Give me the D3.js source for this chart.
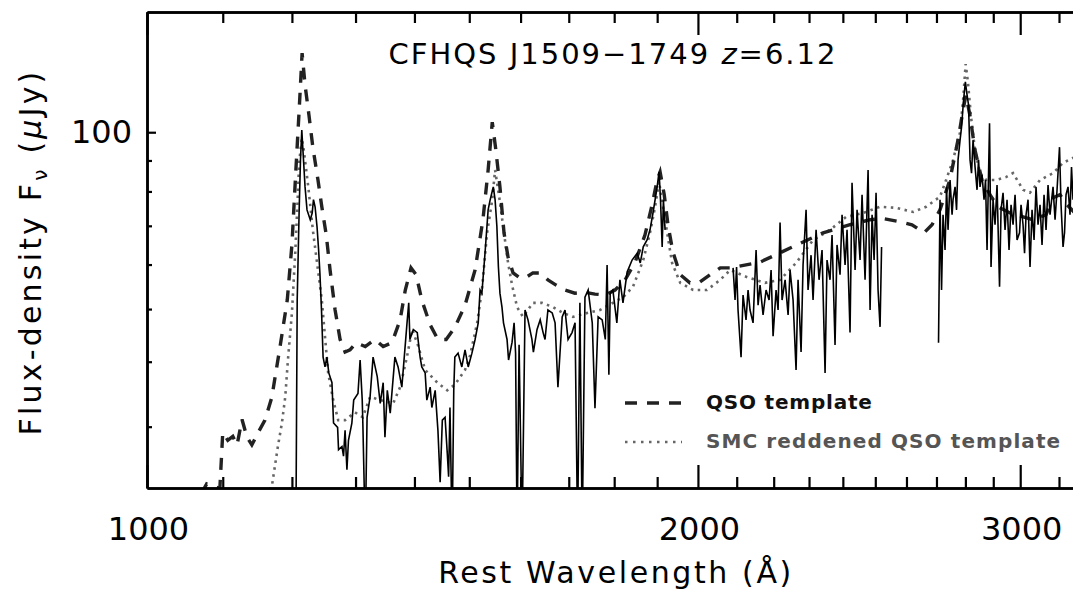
<!DOCTYPE html>
<html>
<head>
<meta charset="utf-8">
<script src="https://cdn.jsdelivr.net/npm/d3@7"></script>
<style>
  body { margin: 0; background: #fff; }
  svg { display: block; }
  text { font-family: "DejaVu Sans", sans-serif; }
</style>
</head>
<body>
<svg id="chart" width="1073" height="589"></svg>
<script>
// tick values
const waveMajor = [1000, 2000, 3000];
const waveMinor = [1100, 1200, 1300, 1400, 1500, 1600, 1700, 1800, 1900,
                   2100, 2200, 2300, 2400, 2500, 2600, 2700, 2800, 2900, 3150];
const fluxMajor = [100];
const fluxMinor = [30, 40, 50, 60, 70, 80, 90];

// QSO template (dashed) [wavelength A, flux uJy]
const qsoTemplate = [
  [1056,20],[1078,23],[1096,22.5],[1100,29.2],[1107,28.2],[1114,28.7],[1120,27.6],[1127,31.0],
  [1134,28.6],[1141,27.6],[1150,29.2],[1160,30.9],[1170,34.2],[1182,42.5],[1193,51.9],[1200,64.9],
  [1206,86.8],[1211,108.5],[1215.5,133],[1220,118.8],[1226,106.5],[1232,94.6],[1240,83.6],[1246,75.4],
  [1253,67.5],[1259,58.7],[1267,49.8],[1275,44.0],[1283,41.7],[1291,42.1],[1301,43.4],[1316,42.7],
  [1332,44.0],[1346,42.7],[1361,43.4],[1375,47.8],[1384,54.1],[1394,59.2],[1403,57.6],[1413,51.9],
  [1428,46.8],[1442,44.0],[1457,44.0],[1473,46.3],[1492,50.8],[1511,58.7],[1526,71.7],[1536,86.8],
  [1544,103.8],[1551,93.6],[1559,81.4],[1567,68.1],[1575,61.8],[1585,58.0],[1599,56.8],[1613,57.1],
  [1625,58.0],[1640,58.0],[1656,56.4],[1673,55.2],[1692,54.1],[1713,53.4],[1735,53.6],[1757,53.2],
  [1780,53.0],[1802,54.1],[1825,56.4],[1848,60.6],[1871,67.5],[1888,76.0],[1900,83.6],[1907,86.2],
  [1917,79.0],[1926,70.3],[1938,63.1],[1956,57.6],[1980,55.7],[2005,55.9],[2031,57.6],[2057,59.2],
  [2083,59.2],[2163,60.6],[2246,64.1],[2341,68.1],[2422,70.3],[2484,71.7],[2525,72.0],[2579,71.1],
  [2618,70.3],[2658,68.1],[2685,70.3],[2712,74.5],[2746,83.6],[2774,97.1],[2792,108.5],[2802,114.5],
  [2816,106.5],[2834,93.6],[2859,83.6],[2888,79.0],[2917,75.4],[2962,73.6],[3011,72.5],[3049,71.7],
  [3099,73.1],[3127,78.1],[3154,79.0],[3182,76.0],[3214,73.6]
];

// SMC reddened QSO template (dotted)
const smcTemplate = [
  [1160,21.8],[1170,22.7],[1179,27.4],[1185,30.5],[1190,34.3],[1194,40.3],[1200,49.2],[1205,62.8],
  [1208,74.5],[1211,89.2],[1215,97.8],[1218,93.6],[1225,81.4],[1232,68.9],[1240,58.7],[1246,51.9],
  [1251,44.5],[1256,38.1],[1264,33.8],[1272,30.9],[1283,30.9],[1299,32.0],[1312,31.3],[1324,34.3],
  [1341,33.8],[1363,33.3],[1375,35.8],[1387,40.9],[1396,45.9],[1406,43.0],[1419,38.6],[1441,36.5],
  [1459,35.3],[1473,36.2],[1492,38.6],[1501,40.9],[1515,47.2],[1524,54.1],[1534,68.1],[1544,77.5],
  [1549.5,86.8],[1557,79.0],[1567,68.1],[1575,60.4],[1583,55.2],[1593,50.4],[1605,48.4],[1625,51.3],
  [1644,51.3],[1667,50.4],[1688,49.2],[1709,48.4],[1740,49.2],[1768,49.8],[1797,51.3],[1820,52.5],
  [1843,54.8],[1867,61.1],[1883,68.1],[1895,75.4],[1904.5,83.0],[1914,75.4],[1924,68.1],[1936,60.4],
  [1956,55.7],[1988,54.1],[2023,54.1],[2057,56.4],[2083,58.7],[2125,57.1],[2176,55.7],[2218,56.4],
  [2263,60.4],[2312,66.2],[2362,68.9],[2410,72.5],[2462,73.6],[2515,75.4],[2566,75.1],[2622,73.9],
  [2665,75.4],[2712,78.4],[2733,83.6],[2757,90.2],[2781,99.8],[2792,112.5],[2801,128],[2809,120],
  [2820,105.8],[2834,93.6],[2852,85.8],[2874,83.6],[2910,83.6],[2947,84.5],[2973,85.8],[3011,80.5],
  [3037,79.6],[3076,83.6],[3127,85.8],[3166,89.2],[3214,91.2]
];

// observed spectrum (solid); null flux marks a gap between segments
const spectrum = [
  [1206,18],[1208,51.9],[1211,74.5],[1213,90.2],[1215,100.8],[1217,92.6],[1220,81.4],[1223,74.5],
  [1228,71.7],[1231,73.6],[1233,77.5],[1235.5,75.4],[1238.5,69.8],[1241,63.6],[1243,58.0],[1245.5,49.8],
  [1248,40.8],[1251,39.1],[1254,40.8],[1257,38.1],[1262,36.5],[1264.5,30.5],[1271,29.9],[1272.5,27.0],
  [1278,27.4],[1280.5,26.2],[1283,29.5],[1286,24.6],[1288.5,28.2],[1294,30.5],[1297,33.8],[1304,34.8],
  [1307.5,40.3],[1311,33.8],[1312,30.5],[1316,18],[1319,31.3],[1324,34.3],[1329,40.8],[1336,37.5],
  [1341,33.3],[1346,36.5],[1349,28.6],[1353,35.3],[1358,31.9],[1366,40.8],[1371.5,39.1],[1378,35.8],
  [1387,47.2],[1390,51.3],[1392,44.0],[1398,45.9],[1405,45.3],[1410,40.8],[1413,39.1],[1419,38.1],
  [1422,33.8],[1428,35.8],[1431,32.7],[1437,35.3],[1442,29.5],[1446,23.2],[1450,30.9],[1455,31.3],
  [1459,26.6],[1461.5,23.8],[1464,32.7],[1468,18],[1471,35.3],[1473,40.8],[1479,41.5],[1486,39.1],
  [1492,42.1],[1498,39.1],[1505,41.5],[1511,44.0],[1517,47.2],[1520.5,54.1],[1524,53.4],[1530,62.8],
  [1536,74.5],[1540,77.5],[1546,81.4],[1549.5,77.5],[1553,69.8],[1556,59.4],[1559,53.4],[1563,50.4],
  [1566,47.2],[1573,44.0],[1576,40.3],[1583,43.5],[1587,47.2],[1590,41.5],[1593,18],[1597,43.0],
  [1603,18],[1609,49.8],[1615,47.8],[1623,44.0],[1626,41.7],[1633.5,45.9],[1640,47.8],[1646,45.3],
  [1650,44.0],[1656,49.8],[1665,49.2],[1671,47.2],[1677,35.8],[1686,48.4],[1692,49.8],[1698.5,44.0],
  [1707,45.3],[1713.5,47.2],[1719,18],[1724,51.3],[1729,18],[1735,52.5],[1742,54.1],[1751,47.2],
  [1757,32.6],[1764,48.4],[1773,47.8],[1780,44.0],[1784,59.9],[1788,37.8],[1791,53.4],[1797,54.1],
  [1806,47.2],[1813,56.4],[1820,51.3],[1829.5,58.2],[1841,61.1],[1853,62.8],[1860,60.4],[1867,64.4],
  [1876,66.2],[1883,68.9],[1890,73.6],[1900,81.4],[1904.5,86.2],[1908,77.5],[1912,64.4],[1915,77.5],
  [1919,68.9],[2000,null],
  [2090.4,59.2],[2095.6,51.9],[2099.6,59.4],[2103.5,49.8],[2111.5,40.8],[2116.8,53.0],[2124.8,47.8],
  [2130.2,54.1],[2135.5,49.8],[2143.6,47.2],[2151.8,63.6],[2157.2,50.8],[2162.6,55.2],[2170.8,48.8],
  [2179.0,54.1],[2187.3,51.9],[2192.8,58.7],[2198.3,44.6],[2206.6,54.1],[2212.2,49.8],[2217.7,70.9],
  [2223.3,51.9],[2231.8,56.4],[2240.2,48.8],[2245.8,58.7],[2254.3,51.9],[2262.8,38.6],[2268.5,56.4],
  [2277.1,41.7],[2282.8,59.9],[2291.5,74.5],[2297.2,54.1],[2305.9,62.3],[2311.7,51.9],[2320.5,68.9],
  [2329.2,56.4],[2338.0,63.6],[2346.9,38.1],[2352.7,61.1],[2361.6,56.4],[2367.6,67.5],[2376.5,43.0],
  [2382.5,64.9],[2391.5,57.6],[2397.6,73.1],[2406.7,59.9],[2412.7,68.9],[2421.8,45.3],[2427.9,82.7],
  [2437.2,58.7],[2443.3,74.5],[2452.5,61.1],[2458.7,79.0],[2468.0,56.4],[2477.4,86.8],[2483.6,49.8],
  [2489.9,73.1],[2496.2,61.1],[2502.4,79.6],[2508.7,54.1],[2515.0,46.4],[2519.8,64.4],[2600,null],
  [2707.0,43.4],[2712.1,77.5],[2717.3,54.1],[2722.4,73.1],[2729.3,63.6],[2734.5,81.4],[2739.6,68.9],
  [2746.5,83.6],[2753.5,73.1],[2756.9,77.5],[2763.9,81.4],[2769.1,74.5],[2774.3,90.2],[2781.3,97.1],
  [2786.6,102.0],[2793.6,112.5],[2800.0,120.1],[2806.0,114.5],[2811.2,110.5],[2816.5,90.2],
  [2821.8,85.8],[2827.2,97.1],[2834.3,87.8],[2841.4,80.5],[2846.8,90.2],[2852.1,81.4],[2859.3,85.2],
  [2866.5,77.5],[2871.9,83.6],[2877.4,63.6],[2886.4,103.4],[2891.9,59.4],[2899.2,77.5],[2906.5,70.3],
  [2913.8,82.0],[2923.0,54.8],[2928.5,74.5],[2935.9,79.6],[2943.3,68.9],[2950.7,77.5],[2958.1,63.6],
  [2965.6,76.0],[2973.1,70.3],[2980.6,79.0],[2988.1,66.2],[2997.4,68.1],[3003.1,76.0],[3010.7,70.3],
  [3016.4,62.8],[3022.1,73.1],[3029.7,77.5],[3037.3,59.4],[3045.0,74.5],[3052.7,66.2],[3060.3,81.4],
  [3068.0,70.3],[3075.7,76.0],[3083.5,64.9],[3091.3,79.0],[3099.1,68.9],[3106.9,82.0],[3114.7,73.1],
  [3126.5,81.4],[3134.4,71.7],[3142.3,80.5],[3152.1,94.6],[3158.1,76.0],[3166.1,64.4],[3172.0,68.1],
  [3178.0,79.0],[3186.0,81.4],[3194.0,73.1],[3200.0,87.8],[3206.0,77.5]
];

const svg = d3.select('#chart');
const plotLeft = 147, plotRight = 1073, plotTop = 12, plotBottom = 488;

const x = d3.scaleLog().domain([1000, 3206]).range([plotLeft, plotRight]);
const y = d3.scalePow().exponent(0.17).domain([22.56, 153.5]).range([plotBottom, plotTop]);

svg.append('rect').attr('width', 1073).attr('height', 589).attr('fill', '#fff');

svg.append('defs').append('clipPath').attr('id', 'plot')
  .append('rect').attr('x', plotLeft).attr('y', plotTop)
  .attr('width', plotRight - plotLeft).attr('height', plotBottom - plotTop);

const line = d3.line()
  .defined(d => d[1] !== null)
  .x(d => x(d[0]))
  .y(d => y(d[1]));

const plot = svg.append('g').attr('clip-path', 'url(#plot)');

plot.append('path')
  .datum(smcTemplate)
  .attr('d', line)
  .attr('fill', 'none')
  .attr('stroke', '#666')
  .attr('stroke-width', 2.6)
  .attr('stroke-dasharray', '2.5,4.5');

plot.append('path')
  .datum(qsoTemplate)
  .attr('d', line)
  .attr('fill', 'none')
  .attr('stroke', '#222')
  .attr('stroke-width', 3.4)
  .attr('stroke-dasharray', '12,10');

plot.append('path')
  .datum(spectrum)
  .attr('d', line)
  .attr('fill', 'none')
  .attr('stroke', '#000')
  .attr('stroke-width', 1.6);

// axes
function styleAxis(g) {
  g.selectAll('path.domain').attr('stroke', '#000').attr('stroke-width', 2.5);
  g.selectAll('.tick line').attr('stroke', '#000').attr('stroke-width', 2.2);
  g.selectAll('.tick text').attr('fill', '#000')
    .style('font-family', '"DejaVu Sans", sans-serif');
}

svg.append('g').attr('transform', `translate(0,${plotBottom})`)
  .call(d3.axisBottom(x).tickValues(waveMajor).tickSize(-23).tickSizeOuter(0)
    .tickPadding(29).tickFormat(d3.format('d')))
  .call(styleAxis)
  .call(g => g.selectAll('.tick text').style('font-size', '32px').attr('dx', 1));

svg.append('g').attr('transform', `translate(0,${plotBottom})`)
  .call(d3.axisBottom(x).tickValues(waveMinor).tickSize(-11).tickSizeOuter(0).tickFormat(''))
  .call(styleAxis);

svg.append('g').attr('transform', `translate(0,${plotTop})`)
  .call(d3.axisTop(x).tickValues(waveMajor).tickSize(-23).tickSizeOuter(0).tickFormat(''))
  .call(styleAxis);

svg.append('g').attr('transform', `translate(0,${plotTop})`)
  .call(d3.axisTop(x).tickValues(waveMinor).tickSize(-11).tickSizeOuter(0).tickFormat(''))
  .call(styleAxis);

svg.append('g').attr('transform', `translate(${plotLeft},0)`)
  .call(d3.axisLeft(y).tickValues(fluxMajor).tickSize(-9).tickSizeOuter(0)
    .tickPadding(15).tickFormat(d3.format('d')))
  .call(styleAxis)
  .call(g => g.selectAll('.tick text').style('font-size', '32px'));

svg.append('g').attr('transform', `translate(${plotLeft},0)`)
  .call(d3.axisLeft(y).tickValues(fluxMinor).tickSize(-5).tickSizeOuter(0).tickFormat(''))
  .call(styleAxis);

// axis titles
svg.append('text')
  .attr('x', 616).attr('y', 583)
  .attr('text-anchor', 'middle')
  .style('font-size', '30px')
  .style('letter-spacing', '2.6px')
  .text('Rest Wavelength (Å)');

const yTitle = svg.append('text')
  .attr('transform', 'translate(41,252) rotate(-90)')
  .attr('text-anchor', 'middle')
  .style('font-size', '30px')
  .style('letter-spacing', '3.2px');
yTitle.append('tspan').text('Flux-density F');
yTitle.append('tspan').attr('dy', 6).style('font-size', '20px').text('ν');
yTitle.append('tspan').attr('dy', -6).text(' (');
yTitle.append('tspan').style('font-style', 'italic').text('μ');
yTitle.append('tspan').text('Jy)');

// title
const title = svg.append('text')
  .attr('x', 613).attr('y', 64)
  .attr('text-anchor', 'middle')
  .style('font-size', '29px')
  .style('letter-spacing', '2px');
title.append('tspan').text('CFHQS J1509−1749 ');
title.append('tspan').style('font-style', 'italic').text('z');
title.append('tspan').text('=6.12');

// legend
const legend = svg.append('g');
legend.append('line')
  .attr('x1', 625).attr('x2', 682).attr('y1', 403).attr('y2', 403)
  .attr('stroke', '#222').attr('stroke-width', 3.4).attr('stroke-dasharray', '12,10');
legend.append('text')
  .attr('x', 706).attr('y', 409)
  .style('font-size', '20px').style('font-weight', 'bold').style('letter-spacing', '0.8px')
  .attr('fill', '#111')
  .text('QSO template');
legend.append('line')
  .attr('x1', 625).attr('x2', 682).attr('y1', 442).attr('y2', 442)
  .attr('stroke', '#666').attr('stroke-width', 2.6).attr('stroke-dasharray', '2.5,5.5');
legend.append('text')
  .attr('x', 706).attr('y', 448)
  .style('font-size', '20px').style('font-weight', 'bold').style('letter-spacing', '1.1px')
  .attr('fill', '#555')
  .text('SMC reddened QSO template');
</script>
</body>
</html>
